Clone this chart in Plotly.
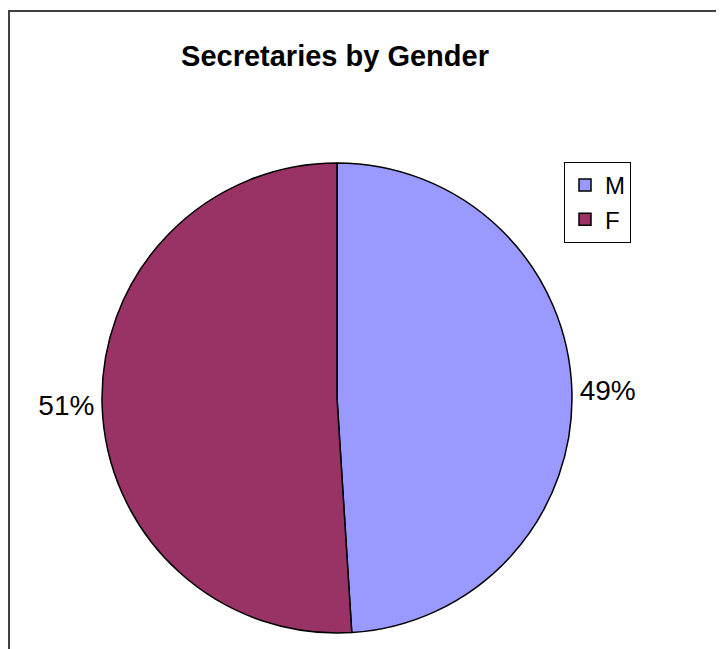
import plotly.graph_objects as go

W, H = 724, 649
OFF = 8  # page body margin in the html

labels = ["M", "F"]
values = [49, 51]
colors = ["#9999FF", "#993366"]

FONT = "Arial, Liberation Sans, sans-serif"


def px(x):
    return (x - OFF) / W


def py(y):
    return 1 - (y - OFF) / H


fig = go.Figure()
fig.add_trace(
    go.Pie(
        labels=labels,
        values=values,
        sort=False,
        direction="clockwise",
        rotation=0,
        marker=dict(colors=colors, line=dict(color="black", width=1.5)),
        textinfo="percent",
        textposition="outside",
        texttemplate="%{percent:.0%}",
        outsidetextfont=dict(family=FONT, size=28, color="black"),
        domain=dict(x=[px(102), px(572)], y=[py(633), py(163)]),
        showlegend=True,
    )
)

# outer chart border (left and top visible, rest cropped)
fig.add_shape(
    type="rect", xref="paper", yref="paper",
    x0=1 / W, x1=1.02, y0=-0.02, y1=1 - 3 / H,
    line=dict(color="#404040", width=2),
)

fig.update_layout(
    width=W,
    height=H,
    margin=dict(l=0, r=0, t=0, b=0),
    paper_bgcolor="white",
    plot_bgcolor="white",
    font=dict(family=FONT, color="black"),
    title=dict(
        text="Secretaries by Gender",
        x=px(335), xanchor="center",
        y=py(56), yanchor="middle",
        font=dict(family=FONT, size=29, weight="bold", color="black"),
    ),
    legend=dict(
        x=px(564), y=py(162), xanchor="left", yanchor="top",
        bordercolor="black", borderwidth=1,
        font=dict(family=FONT, size=24, color="black"),
        bgcolor="white",
    ),
)

fig.write_html("out.html")
